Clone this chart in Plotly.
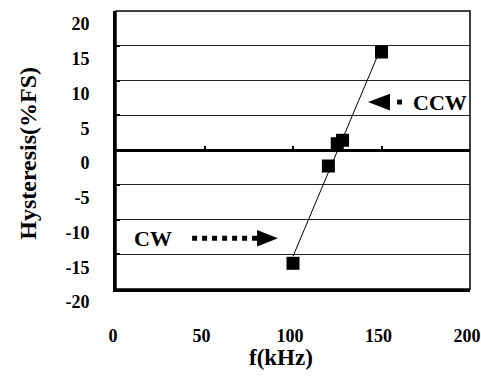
import numpy as np
import plotly.graph_objects as go

# Data
freq_khz = [100, 120, 125, 128, 150]
hysteresis = [-16.3, -2.3, 0.9, 1.4, 14.1]

x_ticks = [0, 50, 100, 150, 200]
y_ticks = [-20, -15, -10, -5, 0, 5, 10, 15, 20]
y_tick_text = [str(v) for v in y_ticks]  # plain hyphen minus as in the reference

x_title = "f(kHz)"
y_title = "Hysteresis(%FS)"

FONT = "Liberation Serif, Times New Roman, serif"

# linear trend line through the data
slope, intercept = np.polyfit(freq_khz, hysteresis, 1)
fit_x = [min(freq_khz), max(freq_khz)]
fit_y = [slope * v + intercept for v in fit_x]

fig = go.Figure()

fig.add_trace(go.Scatter(
    x=fit_x, y=fit_y, mode="lines",
    line=dict(color="black", width=1), showlegend=False, hoverinfo="skip"))

fig.add_trace(go.Scatter(
    x=freq_khz, y=hysteresis, mode="markers",
    marker=dict(symbol="square", size=13, color="black"),
    showlegend=False))

# CW arrow (dotted shaft + triangle head)
fig.add_shape(type="line", x0=43, x1=80, y0=-12.7, y1=-12.7,
              line=dict(color="black", width=5, dash="dot"))
fig.add_shape(type="path", path="M 79.7 -11.5 L 91.5 -12.7 L 79.7 -13.9 Z",
              fillcolor="black", line=dict(color="black", width=0))
# CCW arrow (head + one dot)
fig.add_shape(type="path", path="M 154.8 8.1 L 142.4 6.9 L 154.8 5.7 Z",
              fillcolor="black", line=dict(color="black", width=0))
fig.add_shape(type="rect", x0=158.8, x1=161.6, y0=6.55, y1=7.25,
              fillcolor="black", line=dict(color="black", width=0))

fig.add_annotation(x=21, y=-12.7, text="CW", showarrow=False,
                   font=dict(family=FONT, size=22, color="black", weight="bold"))
fig.add_annotation(x=166.5, y=6.9, text="CCW", showarrow=False, xanchor="left",
                   font=dict(family=FONT, size=22, color="black", weight="bold"))

# axis titles
fig.add_annotation(xref="paper", yref="paper", x=0.4675, y=-0.248, text=x_title,
                   showarrow=False, xanchor="center", yanchor="middle",
                   font=dict(family=FONT, size=23, color="black", weight="bold"))
fig.add_annotation(xref="paper", yref="paper", x=-0.2486, y=0.49, text=y_title,
                   showarrow=False, xanchor="center", yanchor="middle", textangle=-90,
                   font=dict(family=FONT, size=24, color="black", weight="bold"))

# thin top/right border
fig.add_shape(type="rect", xref="paper", yref="paper", x0=0, x1=1, y0=0, y1=1,
              line=dict(color="black", width=1.5), layer="above")

fig.update_layout(
    width=481, height=376,
    margin=dict(l=116, r=11, t=11, b=87, autoexpand=False),
    plot_bgcolor="white", paper_bgcolor="white",
    font=dict(family=FONT, color="black"),
    xaxis=dict(
        range=[0, 200], tickvals=x_ticks, showgrid=False, zeroline=False,
        showline=True, linecolor="black", linewidth=3, ticks="",
        automargin=False,
        tickfont=dict(family=FONT, size=18, weight="bold"),
        ticklabelstandoff=28, ticklabelshift=-3,
    ),
    xaxis2=dict(
        range=[0, 200], tickvals=[50, 100, 150], overlaying="x", anchor="free",
        position=0.5, side="bottom", showline=False, showgrid=False, zeroline=False,
        automargin=False,
        ticks="inside", ticklen=4, tickwidth=2, tickcolor="black", showticklabels=False,
    ),
    yaxis=dict(
        range=[-20, 20], tickvals=y_ticks, ticktext=y_tick_text,
        showgrid=True, gridcolor="#222",
        gridwidth=1, zeroline=True, zerolinecolor="black", zerolinewidth=3,
        showline=True, linecolor="black", linewidth=3, automargin=False,
        ticks="inside", ticklen=4, tickwidth=2, tickcolor="black",
        tickfont=dict(family=FONT, size=18, weight="bold"),
        ticklabelstandoff=20, ticklabelshift=13,
    ),
)

# dummy trace to activate xaxis2
fig.add_trace(go.Scatter(x=[None], y=[None], xaxis="x2", showlegend=False))

fig.write_html("out.html")
